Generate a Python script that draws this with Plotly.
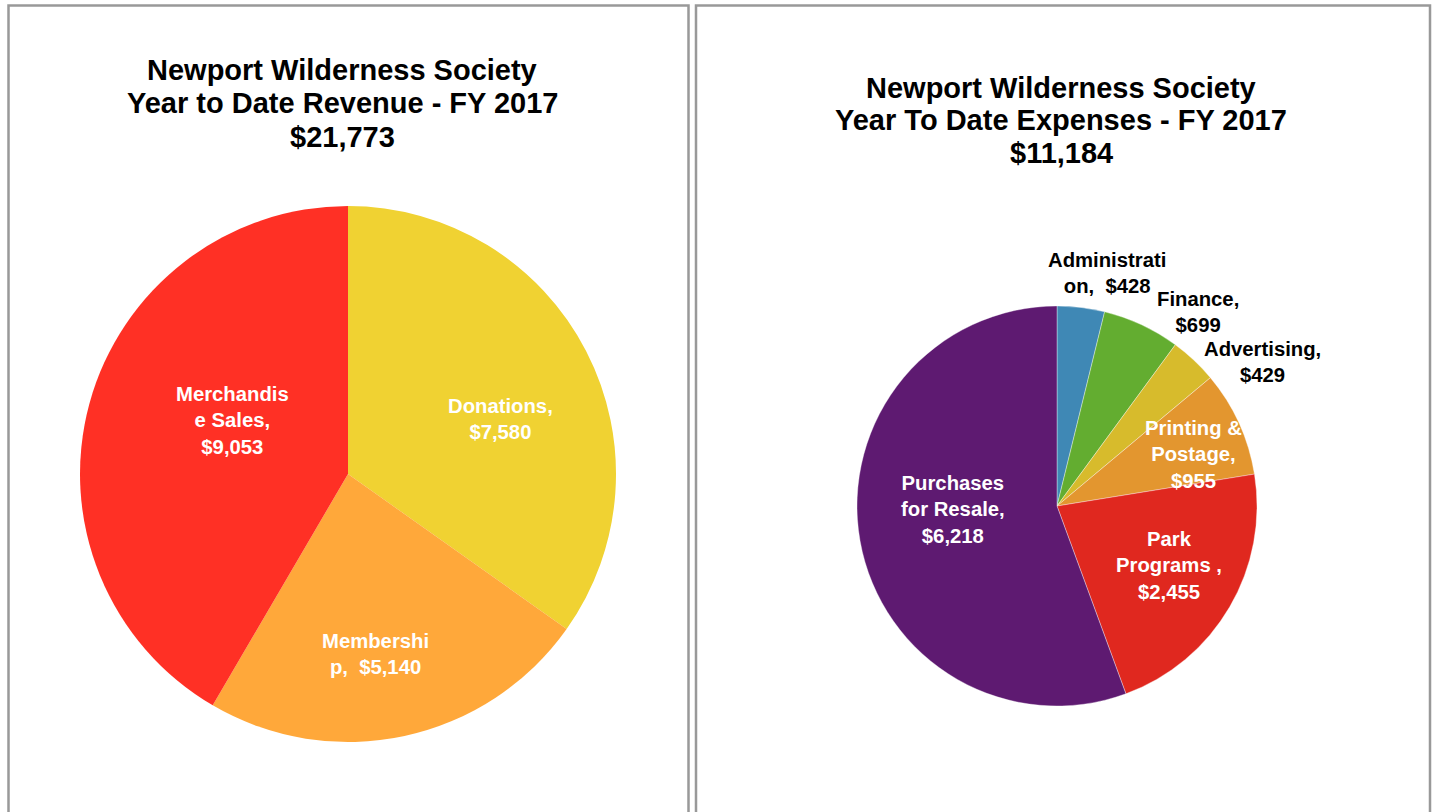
import plotly.graph_objects as go

W, H = 1434, 812

# ---------------- data ----------------
rev_categories = ["Donations", "Membership", "Merchandise Sales"]
rev_values = [7580, 5140, 9053]
rev_label_prefix = ["Donations,<br>", "Membershi<br>p,  ", "Merchandis<br>e Sales,<br>"]
rev_colors = ["#F0D232", "#FFA83A", "#FF3025"]

exp_categories = ["Administration", "Finance", "Advertising", "Printing & Postage",
                  "Park Programs", "Purchases for Resale"]
exp_values = [428, 699, 429, 955, 2455, 6218]
exp_label_prefix = ["Administrati<br>on,  ", "Finance,<br>", "Advertising,<br>",
                    "Printing &<br>Postage,<br>", "Park<br>Programs ,<br>",
                    "Purchases<br>for Resale,<br>"]
exp_colors = ["#3F88B5", "#63AD30", "#D7BB2C", "#E3962F", "#E0281F", "#5E1A71"]

rev_title = ["Newport Wilderness Society", "Year to Date Revenue - FY 2017", "$21,773"]
exp_title = ["Newport Wilderness Society", "Year To Date Expenses - FY 2017", "$11,184"]

# ---------------- layout helpers (pixel positions) ----------------
def px(x):
    return x / W

def py(y):
    return 1 - y / H

FONT = "Liberation Sans, Arial, sans-serif"

fig = go.Figure()

# revenue pie: center (348,474), r=268
fig.add_trace(go.Pie(
    labels=rev_categories, values=rev_values, sort=False, direction="clockwise",
    rotation=0, textinfo="none", hoverinfo="label+value",
    marker=dict(colors=rev_colors, line=dict(width=0)),
    domain=dict(x=[px(80), px(616)], y=[py(742), py(206)]),
    showlegend=False,
))

# expenses pie: center (1057,506), r=200
fig.add_trace(go.Pie(
    labels=exp_categories, values=exp_values, sort=False, direction="clockwise",
    rotation=0, textinfo="none", hoverinfo="label+value",
    marker=dict(colors=exp_colors, line=dict(width=0.6, color="rgba(255,255,255,0.6)")),
    domain=dict(x=[px(857), px(1257)], y=[py(706), py(306)]),
    showlegend=False,
))

annotations = []

# titles (one annotation per line to control line spacing)
rev_title_pos = [(342, 70), (342, 103), (342, 137)]
exp_title_pos = [(1061, 88), (1061, 120), (1061, 153)]
for lines, poss in ((rev_title, rev_title_pos), (exp_title, exp_title_pos)):
    for t, (x, y) in zip(lines, poss):
        annotations.append(dict(
            text=t, x=px(x), y=py(y), xref="paper", yref="paper",
            xanchor="center", yanchor="middle", showarrow=False,
            font=dict(family=FONT, size=29, color="black", weight="bold"),
        ))

# slice labels
rev_label_pos = [(500, 419), (375, 654), (232, 420)]
rev_label_color = ["white", "white", "white"]
exp_label_pos = [(1107, 273), (1198, 312), (1262, 362), (1193, 455), (1169, 565), (953, 509)]
exp_label_color = ["black", "black", "black", "white", "white", "white"]

for prefixes, vals, poss, cols in (
    (rev_label_prefix, rev_values, rev_label_pos, rev_label_color),
    (exp_label_prefix, exp_values, exp_label_pos, exp_label_color),
):
    for p, v, (x, y), c in zip(prefixes, vals, poss, cols):
        annotations.append(dict(
            text=f"{p}${v:,}", x=px(x), y=py(y), xref="paper", yref="paper",
            xanchor="center", yanchor="middle", showarrow=False, align="center",
            font=dict(family=FONT, size=20.3, color=c, weight="bold"),
        ))

shapes = [
    dict(type="rect", xref="paper", yref="paper",
         x0=px(8.5), x1=px(688.5), y0=py(830), y1=py(5.5),
         line=dict(color="#999999", width=2.5), fillcolor="rgba(0,0,0,0)", layer="below"),
    dict(type="rect", xref="paper", yref="paper",
         x0=px(696), x1=px(1430), y0=py(830), y1=py(5.5),
         line=dict(color="#999999", width=2.5), fillcolor="rgba(0,0,0,0)", layer="below"),
]

fig.update_layout(
    width=W, height=H,
    margin=dict(l=0, r=0, t=0, b=0),
    paper_bgcolor="white", plot_bgcolor="white",
    annotations=annotations, shapes=shapes,
    showlegend=False,
)

fig.write_html(
    "out.html",
    config={"displayModeBar": False},
    post_script="document.body.style.margin='0';document.body.style.overflow='hidden';",
)
